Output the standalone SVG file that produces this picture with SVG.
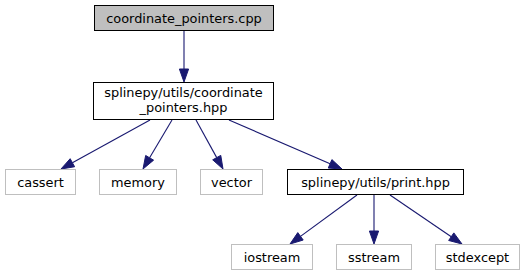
<svg xmlns="http://www.w3.org/2000/svg" width="527" height="276" viewBox="0 0 527 276">
  <style>
    text { font-family: "DejaVu Sans", "Liberation Sans", sans-serif; font-size: 12.9px; fill: #000; text-anchor: middle; }
    .main rect { fill: #bfbfbf; stroke: #000; stroke-width: 1; }
    .local rect { fill: #fff; stroke: #000; stroke-width: 1; }
    .sys rect { fill: #fff; stroke: #bfbfbf; stroke-width: 1; }
    .edge line { stroke: #191970; stroke-width: 1.1; fill: none; }
    .edge polygon { fill: #191970; stroke: #191970; stroke-width: 1; }
  </style>
  <rect width="527" height="276" fill="#fff"/>

  <g id="connectors" class="edge">
    <line x1="184" y1="31" x2="184" y2="69"/>
    <polygon points="179.4,69 184,82 188.6,69"/>

    <line x1="150" y1="120" x2="72.39" y2="162.73"/>
    <polygon points="70.17,158.7 61,169 74.61,166.76"/>

    <line x1="172" y1="120" x2="149.62" y2="157.81"/>
    <polygon points="153.58,160.15 143,169 145.66,155.47"/>

    <line x1="196" y1="120" x2="216.72" y2="157.61"/>
    <polygon points="220.75,155.39 223,169 212.69,159.83"/>

    <line x1="229" y1="120" x2="330.08" y2="163.83"/>
    <polygon points="331.91,159.61 342,169 328.25,168.05"/>

    <line x1="357" y1="195" x2="300.49" y2="236.33"/>
    <polygon points="297.78,232.62 290,244 303.2,240.04"/>

    <line x1="374" y1="195" x2="374" y2="231"/>
    <polygon points="369.4,231 374,244 378.6,231"/>

    <line x1="390" y1="195" x2="451.25" y2="236.68"/>
    <polygon points="453.84,232.88 462,244 448.66,240.48"/>
  </g>

  <g id="node-coordinate-pointers-cpp" class="main">
    <rect x="94.5" y="5.5" width="179" height="25"/>
    <text x="184" y="22.5">coordinate_pointers.cpp</text>
  </g>

  <g id="node-coordinate-pointers-hpp" class="local">
    <rect x="93.5" y="82.5" width="180" height="37"/>
    <text x="183.5" y="97">splinepy/utils/coordinate</text>
    <text x="183.5" y="112">_pointers.hpp</text>
  </g>

  <g id="node-cassert" class="sys">
    <rect x="5.5" y="169.5" width="70" height="25"/>
    <text x="40.5" y="186.5">cassert</text>
  </g>

  <g id="node-memory" class="sys">
    <rect x="99.5" y="169.5" width="77" height="25"/>
    <text x="138" y="186.5">memory</text>
  </g>

  <g id="node-vector" class="sys">
    <rect x="200.5" y="169.5" width="62" height="25"/>
    <text x="231.5" y="186.5">vector</text>
  </g>

  <g id="node-print-hpp" class="local">
    <rect x="287.5" y="169.5" width="176" height="25"/>
    <text x="375.5" y="186.5">splinepy/utils/print.hpp</text>
  </g>

  <g id="node-iostream" class="sys">
    <rect x="231.5" y="244.5" width="81" height="25"/>
    <text x="272" y="261.5">iostream</text>
  </g>

  <g id="node-sstream" class="sys">
    <rect x="336.5" y="244.5" width="75" height="25"/>
    <text x="374" y="261.5">sstream</text>
  </g>

  <g id="node-stdexcept" class="sys">
    <rect x="435.5" y="244.5" width="84" height="25"/>
    <text x="477.5" y="261.5">stdexcept</text>
  </g>
</svg>
